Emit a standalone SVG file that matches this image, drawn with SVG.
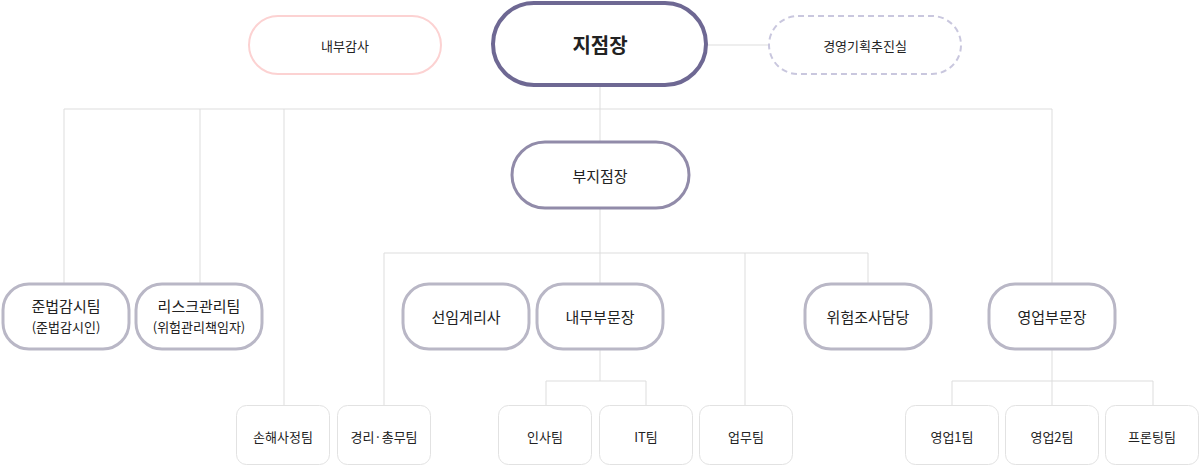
<svg xmlns="http://www.w3.org/2000/svg" width="1200" height="466" viewBox="0 0 1200 466">
<style>
text{font-family:"Noto Sans CJK KR","Noto Sans",sans-serif;fill:#222;text-anchor:middle;dominant-baseline:central}
.c{fill:none;stroke:#dddddd;stroke-width:1}
.m{fill:#fff;stroke:#b9b7c6;stroke-width:3}
.s{fill:#fff;stroke:#e2e2e2;stroke-width:1}
.t{font-size:15px}
.u{font-size:13px}
</style>
<rect width="1200" height="466" fill="#fff"/>
<g id="connectors" class="c">
<path d="M707 45H768M600 86V109M64 109H1052M64 109V283M200 109V283M284 109V405M600 109V141M1052 109V283"/>
<path d="M600 208V253M384 253H868M384 253V405M600 253V283M745 253V405M868 253V283"/>
<path d="M600 349V381M546 381H646M546 381V405M646 381V405"/>
<path d="M1052 349V381M952 381H1153M952 381V405M1052 381V405M1153 381V405"/>
</g>
<g id="n-audit"><rect x="249" y="16" width="192" height="58" rx="29" fill="#fff" stroke="#fcd2d2" stroke-width="2"/><text x="345" y="45" class="u">내부감사</text></g>
<g id="n-head"><rect x="493" y="3" width="213" height="82" rx="41" fill="#fff" stroke="#6e6893" stroke-width="4"/><text x="600" y="44" font-size="20" font-weight="bold">지점장</text></g>
<g id="n-plan"><rect x="769" y="16" width="192" height="58" rx="29" fill="#fff" stroke="#c9c7de" stroke-width="2" stroke-dasharray="6 4"/><text x="865" y="45" class="u">경영기획추진실</text></g>
<g id="n-deputy"><rect x="512" y="142" width="177" height="66" rx="33" fill="#fff" stroke="#918ba9" stroke-width="3"/><text x="600" y="175" class="t">부지점장</text></g>
<g id="n-comp"><rect class="m" x="3" y="284" width="126" height="65" rx="26"/><text x="66" y="305" class="t">준법감시팀</text><text x="66" y="326" class="u">(준법감시인)</text></g>
<g id="n-risk"><rect class="m" x="136" y="284" width="126" height="65" rx="26"/><text x="199" y="305" class="t">리스크관리팀</text><text x="199" y="326" class="u">(위험관리책임자)</text></g>
<g id="n-actuary"><rect class="m" x="403" y="284" width="126" height="65" rx="26"/><text x="466" y="316" class="t">선임계리사</text></g>
<g id="n-internal"><rect class="m" x="537" y="284" width="126" height="65" rx="26"/><text x="600" y="316" class="t">내무부문장</text></g>
<g id="n-riskinv"><rect class="m" x="805" y="284" width="126" height="65" rx="26"/><text x="868" y="316" class="t">위험조사담당</text></g>
<g id="n-sales"><rect class="m" x="989" y="284" width="126" height="65" rx="26"/><text x="1052" y="316" class="t">영업부문장</text></g>
<g id="n-claims"><rect class="s" x="236.5" y="405.5" width="93" height="59" rx="10"/><text x="283" y="436" class="u">손해사정팀</text></g>
<g id="n-acct"><rect class="s" x="337.5" y="405.5" width="93" height="59" rx="10"/><text x="384" y="436" class="u">경리·총무팀</text></g>
<g id="n-hr"><rect class="s" x="498.5" y="405.5" width="93" height="59" rx="10"/><text x="545" y="436" class="u">인사팀</text></g>
<g id="n-it"><rect class="s" x="599.5" y="405.5" width="93" height="59" rx="10"/><text x="646" y="436" class="u">IT팀</text></g>
<g id="n-ops"><rect class="s" x="699.5" y="405.5" width="93" height="59" rx="10"/><text x="746" y="436" class="u">업무팀</text></g>
<g id="n-s1"><rect class="s" x="905.5" y="405.5" width="93" height="59" rx="10"/><text x="952" y="436" class="u">영업1팀</text></g>
<g id="n-s2"><rect class="s" x="1005.5" y="405.5" width="93" height="59" rx="10"/><text x="1052" y="436" class="u">영업2팀</text></g>
<g id="n-front"><rect class="s" x="1105.5" y="405.5" width="93" height="59" rx="10"/><text x="1152" y="436" class="u">프론팅팀</text></g>
</svg>
